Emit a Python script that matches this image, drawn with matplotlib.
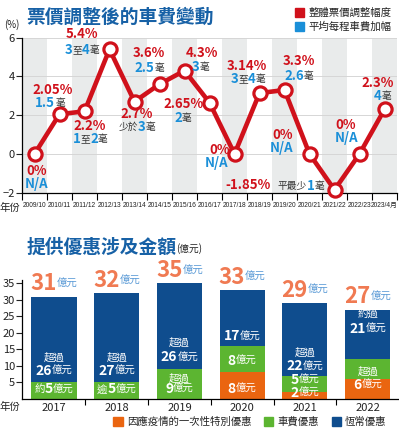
import re
import matplotlib
matplotlib.use('Agg')
import matplotlib.pyplot as plt
from matplotlib import font_manager
from matplotlib.patches import Patch
from matplotlib.transforms import IdentityTransform

plt.rcParams['font.family'] = ['Noto Sans CJK TC', 'DejaVu Sans']

# ---- data: fare change chart
seasons = ['2009/10', '2010/11', '2011/12', '2012/13', '2013/14', '2014/15', '2015/16',
           '2016/17', '2017/18', '2018/19', '2019/20', '2020/21', '2021/22', '2022/23', '2023/4月']
fare_change = [0, 2.05, 2.2, 5.4, 2.7, 3.6, 4.3, 2.65, 0, 3.14, 3.3, 0, -1.85, 0, 2.3]
pct_labels = ['0%', '2.05%', '2.2%', '5.4%', '2.7%', '3.6%', '4.3%', '2.65%',
              '0%', '3.14%', '3.3%', '0%', '-1.85%', '0%', '2.3%']
rise_labels = ['N/A', '1.5毫', '1至2毫', '3至4毫', '少於3毫', '2.5毫', '3毫', '2毫',
               'N/A', '3至4毫', '2.6毫', 'N/A', '平最少1毫', 'N/A', '4毫']

# ---- data: concession amounts (億元)
years = ['2017', '2018', '2019', '2020', '2021', '2022']
special = [0, 0, 0, 8, 2, 6]
fare_disc = [5, 5, 9, 8, 5, 6]
regular = [26, 27, 26, 17, 22, 15]
bar_notes = [['超過', '26億元', '約5億元'],
             ['超過', '27億元', '逾5億元'],
             ['超過', '26億元', '超過', '9億元'],
             ['17億元', '8億元', '8億元'],
             ['超過', '22億元', '5億元', '2億元'],
             ['約過', '21億元', '超過', '6億元']]
note_y = [[12.4, 8.4, 2.8], [12.4, 8.4, 2.8], [16.9, 12.5, 6.2, 3.0],
          [18.9, 11.5, 3.0], [14.0, 9.8, 5.7, 1.7], [25.5, 21.2, 8.2, 4.2]]

RED = '#d0111b'
BLUE = '#1a8fd8'
GREY = '#333333'
NAVY = '#0f4d8e'
GREEN = '#5cb531'
ORANGE = '#ea6510'
SALMON = '#f07a52'
TITLE = '#1761a6'

# narrow font for the crowded season labels, if there is one
try:
    font_manager.findfont('Liberation Sans Narrow', fallback_to_default=False)
    season_font, season_size = 'Liberation Sans Narrow', 6
except ValueError:
    season_font, season_size = 'Liberation Sans', 4.8

W, H = 399, 432
fig = plt.figure(figsize=(W / 100, H / 100), dpi=100)
rend = fig.canvas.get_renderer()


def rich(x, y, pieces):
    # pieces drawn side by side, centred on display pixel x,y
    ts = [fig.text(0, 0, s, transform=IdentityTransform(), va='center', ha='left', **kw)
          for s, kw in pieces]
    ws = [t.get_window_extent(rend).width for t in ts]
    x0 = x - sum(ws) / 2
    for t, w in zip(ts, ws):
        t.set_position((x0, y))
        x0 += w


def split_pieces(s, num_kw, other_kw):
    out = []
    for part in re.findall(r'[0-9.\-%/NA]+|[^0-9.\-%/NA]+', s):
        if re.match(r'[0-9.\-%/NA]', part):
            out.append((part, num_kw))
        else:
            out.append((part, other_kw))
    return out


# ================= top chart =================
ax = fig.add_axes([22 / W, 1 - 192.7 / H, 375 / W, 155 / H])
n = len(seasons)
xs = list(range(n))
for i in range(0, n, 2):
    ax.axvspan(i - 0.5, i + 0.5, color='#e9ebeb', lw=0, zorder=0)
for v in [0, 2, 4, 6]:
    ax.axhline(v, color='#d6d6d6', lw=0.7, zorder=1)
ax.plot(xs, fare_change, color=RED, lw=3.3, marker='o', ms=9.5, mfc='white',
        mec=RED, mew=2.3, zorder=3, clip_on=False)
ax.set_xlim(-0.5, n - 0.5)
ax.set_ylim(-2, 6)
ax.set_yticks([-2, 0, 2, 4, 6])
ax.tick_params(axis='y', labelsize=8, length=4, width=0.8, pad=1, colors='#222222')
ax.set_xticks([i + 0.5 for i in range(-1, n)])
ax.set_xticklabels([])
ax.tick_params(axis='x', which='major', length=5, width=0.8, direction='out')
ax.set_xticks(xs, minor=True)
ax.set_xticklabels(seasons, minor=True, fontsize=season_size, color='#222222',
                   family=[season_font, 'Noto Sans CJK TC'])
ax.tick_params(axis='x', which='minor', length=0, pad=7)
for s in ['top', 'right']:
    ax.spines[s].set_visible(False)
ax.spines['left'].set_linewidth(0.9)
ax.spines['bottom'].set_linewidth(0.9)

# label offsets in pixels (dx, dy-down) for pct text and fare-rise text
offs = [(2.5, 17, 2.5, 30.5), (-6.5, -24.3, -9.5, -11.3), (5.5, 15, 5.5, 28),
        (-27.5, -15.4, -27.5, 0.6), (2.5, 12.7, 2.5, 25.7), (-10.5, -31, -10.5, -16),
        (17.5, -17.5, 15.5, -3.5), (-25.5, 1.7, -26.5, 15.7), (-14.5, -4.3, -17.5, 8.7),
        (-12.5, -26.9, -11.5, -13.9), (14.5, -28.8, 14.5, -13.8), (-26.5, -19.3, -27.5, -6.3),
        (-86.5, -4.9, -33.5, -3.9), (-13.5, -29, -12.5, -15.5), (-6.5, -26, -1.5, -13)]
for i in range(n):
    px, py = ax.transData.transform((xs[i], fare_change[i]))
    dx1, dy1, dx2, dy2 = offs[i]
    rich(px + dx1, py - dy1, [(pct_labels[i], dict(color=RED, fontsize=9.5, fontweight='bold'))])
    rich(px + dx2, py - dy2, split_pieces(rise_labels[i],
                                          dict(color=BLUE, fontsize=9.5, fontweight='bold'),
                                          dict(color=GREY, fontsize=7)))

fig.text(26 / W, 1 - 17 / H, '票價調整後的車費變動', color=TITLE, fontsize=13.5,
         fontweight='bold', va='center')
fig.text(4 / W, 1 - 25 / H, '(%)', fontsize=7, color='#222222', va='center')
fig.text(0, 1 - 208 / H, '年份', fontsize=7.5, color='#222222', va='center')
fig.legend(handles=[Patch(color=RED, label='整體票價調整幅度'),
                    Patch(color=BLUE, label='平均每程車費加幅')],
           loc='center', bbox_to_anchor=(343 / W, 1 - 20 / H), frameon=False,
           fontsize=7.5, handlelength=0.9, handleheight=0.9, handletextpad=0.4,
           labelspacing=0.35, borderpad=0, labelcolor='#222222')

# ================= bottom chart =================
bx = fig.add_axes([22 / W, 1 - 398.6 / H, 377 / W, 118.4 / H])
m = len(years)
bxs = list(range(m))
bw = 0.72
bx.bar(bxs, special, bw, color=ORANGE, lw=0)
bx.bar(bxs, fare_disc, bw, bottom=special, color=GREEN, lw=0)
base2 = [a + b for a, b in zip(special, fare_disc)]
bx.bar(bxs, regular, bw, bottom=base2, color=NAVY, lw=0)
totals = [a + b for a, b in zip(base2, regular)]
bx.set_xlim(-0.51, m - 0.5)
bx.set_ylim(0, 36)
bx.set_yticks(range(5, 36, 5))
bx.tick_params(axis='y', labelsize=8, length=4, width=0.8, pad=1, colors='#222222')
bx.set_xticks([i + 0.5 for i in range(m - 1)])
bx.set_xticklabels([])
bx.tick_params(axis='x', which='major', length=4, width=0.8, direction='out')
bx.set_xticks(bxs, minor=True)
bx.set_xticklabels(years, minor=True, fontsize=8, color='#222222')
bx.tick_params(axis='x', which='minor', length=0, pad=3)
for s in ['top', 'right']:
    bx.spines[s].set_visible(False)
bx.spines['left'].set_linewidth(0.9)
bx.spines['bottom'].set_linewidth(0.9)

for i in range(m):
    px, py = bx.transData.transform((bxs[i], totals[i]))
    rich(px, py + 13, [(str(totals[i]), dict(color=SALMON, fontsize=16, fontweight='bold')),
                       ('億元', dict(color='#5a9ad6', fontsize=7.5))])
    for txt, yv in zip(bar_notes[i], note_y[i]):
        qx, qy = bx.transData.transform((bxs[i], yv))
        rich(qx, qy, split_pieces(txt, dict(color='white', fontsize=10, fontweight='bold'),
                                  dict(color='white', fontsize=7.5)))

fig.text(27 / W, 1 - 247 / H, '提供優惠涉及金額', color=TITLE, fontsize=13.5,
         fontweight='bold', va='center')
fig.text(176 / W, 1 - 249 / H, '(億元)', color='#222222', fontsize=7, va='center')
fig.text(0, 1 - 407 / H, '年份', fontsize=7.5, color='#222222', va='center')
fig.legend(handles=[Patch(color=ORANGE, label='因應疫情的一次性特別優惠'),
                    Patch(color=GREEN, label='車費優惠'),
                    Patch(color=NAVY, label='恆常優惠')],
           loc='center', bbox_to_anchor=(250 / W, 1 - 422 / H), ncol=3, frameon=False,
           fontsize=7.5, handlelength=0.9, handleheight=0.9, handletextpad=0.4,
           columnspacing=1.2, borderpad=0, labelcolor='#222222')

fig.savefig('out.png', dpi=100)
